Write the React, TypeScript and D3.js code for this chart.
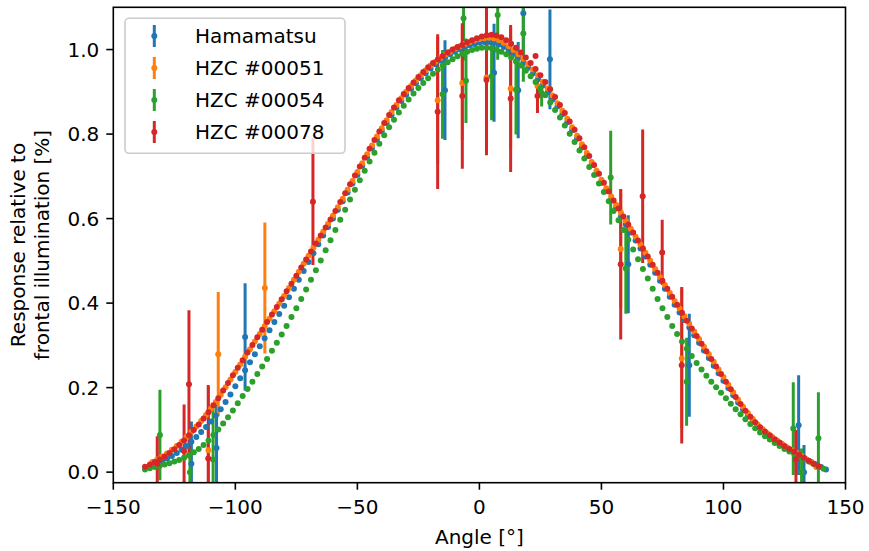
import React from 'react';
import * as d3 from 'd3';

const SERIES_NAMES = ['Hamamatsu', 'HZC #00051', 'HZC #00054', 'HZC #00078'];
const COLORS = ['#1f77b4', '#ff7f0e', '#2ca02c', '#d62728'];

const X_TICKS = [-150, -100, -50, 0, 50, 100, 150];
const Y_TICKS = [0, 0.2, 0.4, 0.6, 0.8, 1.0];

// angle sweeps (degrees)
const HAMAMATSU_ANGLES = d3.range(-134, 143, 2);
const HZC51_ANGLES = d3.range(-134, 139, 2);
const HZC54_ANGLES = d3.range(-137, 142, 2);
const HZC78_ANGLES = d3.range(-137, 140, 2);

const HAMAMATSU_Y = [
  0.018, 0.022, 0.027, 0.032, 0.038, 0.045, 0.053, 0.062, 0.072, 0.083,
  0.095, 0.107, 0.12, 0.134, 0.149, 0.166, 0.184, 0.203, 0.222, 0.241,
  0.26, 0.279, 0.298, 0.317, 0.336, 0.355, 0.374, 0.394, 0.414, 0.434,
  0.455, 0.476, 0.497, 0.518, 0.539, 0.56, 0.58, 0.6, 0.621, 0.641,
  0.662, 0.683, 0.704, 0.725, 0.746, 0.767, 0.787, 0.807, 0.826, 0.845,
  0.862, 0.878, 0.893, 0.907, 0.92, 0.932, 0.944, 0.955, 0.965, 0.974,
  0.982, 0.989, 0.995, 1.001, 1.006, 1.01, 1.013, 1.016, 1.018, 1.018,
  1.016, 1.012, 1.006, 0.999, 0.99, 0.98, 0.969, 0.957, 0.944, 0.93,
  0.915, 0.899, 0.882, 0.865, 0.847, 0.828, 0.809, 0.789, 0.769, 0.748,
  0.727, 0.706, 0.685, 0.665, 0.645, 0.625, 0.605, 0.586, 0.567, 0.548,
  0.529, 0.51, 0.491, 0.472, 0.453, 0.434, 0.415, 0.396, 0.378, 0.36,
  0.342, 0.324, 0.306, 0.288, 0.27, 0.252, 0.234, 0.216, 0.199, 0.182,
  0.165, 0.149, 0.135, 0.122, 0.11, 0.099, 0.089, 0.08, 0.072, 0.064,
  0.057, 0.05, 0.043, 0.036, 0.03, 0.024, 0.018, 0.012, 0.006,
];

const HZC51_Y = [
  0.024, 0.03, 0.037, 0.044, 0.053, 0.062, 0.072, 0.083, 0.095, 0.108,
  0.121, 0.135, 0.15, 0.166, 0.183, 0.201, 0.219, 0.237, 0.255, 0.273,
  0.291, 0.309, 0.327, 0.345, 0.363, 0.381, 0.399, 0.417, 0.436, 0.455,
  0.474, 0.493, 0.512, 0.531, 0.55, 0.569, 0.588, 0.607, 0.627, 0.647,
  0.668, 0.689, 0.71, 0.731, 0.752, 0.773, 0.794, 0.814, 0.833, 0.852,
  0.869, 0.885, 0.9, 0.914, 0.927, 0.939, 0.951, 0.962, 0.971, 0.98,
  0.988, 0.995, 1.002, 1.008, 1.013, 1.018, 1.022, 1.025, 1.027, 1.028,
  1.026, 1.022, 1.016, 1.008, 0.999, 0.989, 0.978, 0.966, 0.953, 0.939,
  0.924, 0.908, 0.891, 0.873, 0.855, 0.836, 0.816, 0.796, 0.776, 0.755,
  0.734, 0.713, 0.692, 0.672, 0.652, 0.633, 0.614, 0.595, 0.576, 0.557,
  0.538, 0.519, 0.5, 0.481, 0.462, 0.443, 0.424, 0.405, 0.387, 0.369,
  0.351, 0.333, 0.315, 0.297, 0.279, 0.261, 0.243, 0.225, 0.207, 0.189,
  0.171, 0.155, 0.14, 0.126, 0.113, 0.102, 0.092, 0.083, 0.075, 0.067,
  0.059, 0.052, 0.045, 0.038, 0.03, 0.022, 0.012,
];

const HZC54_Y = [
  0.006, 0.009, 0.012, 0.015, 0.018, 0.021, 0.025, 0.029, 0.034, 0.04,
  0.047, 0.055, 0.064, 0.075, 0.088, 0.101, 0.115, 0.13, 0.146, 0.163,
  0.18, 0.197, 0.214, 0.232, 0.25, 0.268, 0.287, 0.306, 0.326, 0.346,
  0.367, 0.388, 0.41, 0.432, 0.455, 0.478, 0.501, 0.525, 0.549, 0.573,
  0.597, 0.621, 0.645, 0.668, 0.691, 0.713, 0.735, 0.756, 0.777, 0.797,
  0.816, 0.834, 0.851, 0.867, 0.882, 0.896, 0.909, 0.921, 0.932, 0.943,
  0.953, 0.962, 0.97, 0.977, 0.984, 0.99, 0.995, 0.999, 1.002, 1.004,
  1.004, 1.003, 1.0, 0.995, 0.989, 0.981, 0.972, 0.962, 0.95, 0.937,
  0.923, 0.908, 0.892, 0.875, 0.857, 0.839, 0.82, 0.801, 0.781, 0.761,
  0.742, 0.722, 0.703, 0.683, 0.663, 0.641, 0.618, 0.596, 0.573, 0.55,
  0.527, 0.504, 0.481, 0.458, 0.434, 0.41, 0.388, 0.367, 0.346, 0.327,
  0.309, 0.292, 0.275, 0.258, 0.243, 0.228, 0.214, 0.201, 0.188, 0.175,
  0.162, 0.149, 0.137, 0.125, 0.114, 0.104, 0.094, 0.085, 0.077, 0.069,
  0.062, 0.055, 0.049, 0.043, 0.037, 0.031, 0.025, 0.019, 0.013, 0.008,
];

const HZC78_Y = [
  0.013, 0.018, 0.024, 0.03, 0.037, 0.045, 0.054, 0.064, 0.075, 0.087,
  0.1, 0.113, 0.127, 0.142, 0.158, 0.175, 0.193, 0.211, 0.229, 0.247,
  0.265, 0.283, 0.301, 0.319, 0.337, 0.355, 0.373, 0.391, 0.409, 0.428,
  0.446, 0.465, 0.484, 0.503, 0.522, 0.541, 0.56, 0.579, 0.598, 0.618,
  0.639, 0.66, 0.681, 0.702, 0.723, 0.744, 0.765, 0.786, 0.806, 0.826,
  0.845, 0.863, 0.88, 0.895, 0.909, 0.922, 0.935, 0.947, 0.958, 0.968,
  0.977, 0.985, 0.993, 1.0, 1.006, 1.011, 1.017, 1.022, 1.027, 1.031,
  1.034, 1.035, 1.033, 1.029, 1.022, 1.014, 1.004, 0.993, 0.981, 0.968,
  0.954, 0.939, 0.923, 0.906, 0.888, 0.869, 0.85, 0.83, 0.81, 0.79,
  0.769, 0.748, 0.727, 0.706, 0.685, 0.664, 0.643, 0.624, 0.605, 0.586,
  0.567, 0.548, 0.529, 0.51, 0.491, 0.472, 0.453, 0.434, 0.415, 0.396,
  0.377, 0.358, 0.34, 0.322, 0.304, 0.286, 0.268, 0.25, 0.232, 0.214,
  0.196, 0.178, 0.161, 0.145, 0.131, 0.118, 0.106, 0.096, 0.087, 0.078,
  0.07, 0.062, 0.055, 0.048, 0.041, 0.034, 0.027, 0.02, 0.014,
];

// error-bar measurements: [angle, value, half-error]
const HAMAMATSU_ERR = [
  [-118, 0.02, 0.1], [-107.7, 0.057, 0.106], [-96, 0.32, 0.127], [-14.1, 0.904, 0.118],
  [6, 0.945, 0.116], [15.9, 0.904, 0.114], [18, 1.086, 0.11], [28.9, 0.977, 0.118],
  [61, 0.492, 0.116], [86, 0.253, 0.122], [130.8, 0.111, 0.118], [133, 0.0, 0.064],
];
const HZC51_ERR = [
  [-111, 0.052, 0.15], [-107, 0.279, 0.147], [-87.9, 0.436, 0.155], [-17.1, 0.88, 0.15],
  [-7, 0.921, 0.135], [2.9, 0.934, 0.17], [12.8, 0.908, 0.145], [23.8, 0.914, 0.01],
  [57.9, 0.528, 0.14], [82.9, 0.269, 0.165],
];
const HZC54_ERR = [
  [-130.9, 0.088, 0.107], [-118.6, 0.0, 0.057], [-109.1, 0.03, 0.133], [-15.1, 0.894, 0.105],
  [-6.5, 1.074, 0.1], [-5.5, 0.926, 0.1], [5, 0.937, 0.104], [7.5, 1.082, 0.106],
  [15, 0.905, 0.106], [18, 1.038, 0.114], [25.5, 0.897, 0.032], [53.8, 0.697, 0.111],
  [60, 0.482, 0.107], [84.9, 0.214, 0.104], [128.6, 0.103, 0.11], [132, 0.0, 0.056],
  [138.9, 0.08, 0.109],
];
const HZC78_ERR = [
  [-132, 0.02, 0.065], [-121, 0.05, 0.11], [-119, 0.208, 0.175], [-111.1, 0.032, 0.174],
  [-68.2, 0.64, 0.15], [-17.1, 0.853, 0.183], [-7, 0.89, 0.172], [2.9, 0.928, 0.178],
  [12.8, 0.884, 0.174], [23, 0.985, 0.004], [23.8, 0.89, 0.04], [57.9, 0.492, 0.178],
  [66.9, 0.653, 0.158], [74.9, 0.52, 0.077], [82.9, 0.253, 0.185], [129.7, 0.03, 0.07],
];

const ANGLES = [HAMAMATSU_ANGLES, HZC51_ANGLES, HZC54_ANGLES, HZC78_ANGLES];
const VALUES = [HAMAMATSU_Y, HZC51_Y, HZC54_Y, HZC78_Y];
const ERRS = [HAMAMATSU_ERR, HZC51_ERR, HZC54_ERR, HZC78_ERR];

const W = 869;
const H = 551;
const PL = 113.3, PR = 845.5, PT = 7.3, PB = 482.7;
const FONT = 'DejaVu Sans, sans-serif';
const FS = 20;

export default function App() {
  const x = d3.scaleLinear().domain([-150, 150]).range([PL, PR]);
  const y = d3.scaleLinear().domain([-0.025, 1.1]).range([PB, PT]);
  const fmtY = d3.format('.1f');
  const fmtX = (v: number) => (v < 0 ? '\u2212' + Math.abs(v) : String(v));
  const MR = 3;
  const LW = 3;

  const legendRows = [36, 68, 100, 132];

  return (
    <svg width={W} height={H} style={{ position: 'absolute', left: 0, top: 0, background: '#fff' }}
      fontFamily={FONT}>
      <defs>
        <clipPath id="plotclip">
          <rect x={PL} y={PT} width={PR - PL} height={PB - PT} />
        </clipPath>
      </defs>
      <rect x={0} y={0} width={W} height={H} fill="#fff" />
      <g clipPath="url(#plotclip)">
        {ERRS.map((errs, si) => (
          <g key={'e' + si} stroke={COLORS[si]} strokeWidth={LW}>
            {errs.map((d, i) => (
              <line key={i} x1={x(d[0])} x2={x(d[0])} y1={y(d[1] - d[2])} y2={y(d[1] + d[2])} />
            ))}
          </g>
        ))}
        {VALUES.map((vals, si) => (
          <g key={'m' + si} fill={COLORS[si]}>
            {vals.map((v, i) => (
              ANGLES[si][i] === undefined ? null :
                <circle key={i} cx={x(ANGLES[si][i])} cy={y(v)} r={MR} />
            ))}
            {ERRS[si].map((d, i) => (
              <circle key={'c' + i} cx={x(d[0])} cy={y(d[1])} r={MR} />
            ))}
          </g>
        ))}
      </g>
      {/* axes frame */}
      <rect x={PL} y={PT} width={PR - PL} height={PB - PT} fill="none" stroke="#000" strokeWidth={1.6} />
      {/* x ticks */}
      {X_TICKS.map((t) => (
        <g key={'xt' + t}>
          <line x1={x(t)} x2={x(t)} y1={PB} y2={PB + 7} stroke="#000" strokeWidth={1.6} />
          <text x={x(t)} y={514} fontSize={FS} textAnchor="middle" fill="#000">{fmtX(t)}</text>
        </g>
      ))}
      {/* y ticks */}
      {Y_TICKS.map((t) => (
        <g key={'yt' + t}>
          <line x1={PL - 7} x2={PL} y1={y(t)} y2={y(t)} stroke="#000" strokeWidth={1.6} />
          <text x={PL - 14} y={y(t) + 7.3} fontSize={FS} textAnchor="end" fill="#000">{fmtY(t)}</text>
        </g>
      ))}
      {/* axis labels */}
      <text x={(PL + PR) / 2} y={544} fontSize={FS} textAnchor="middle" fill="#000">Angle [°]</text>
      <g transform={`translate(0, ${(PT + PB) / 2}) rotate(-90)`}>
        <text x={0} y={24.6} fontSize={FS} textAnchor="middle" fill="#000">Response relative to</text>
        <text x={0} y={48.6} fontSize={FS} textAnchor="middle" fill="#000">frontal illumination [%]</text>
      </g>
      {/* legend */}
      <rect x={125} y={18.3} width={220} height={135} rx={4} ry={4} fill="#fff" fillOpacity={0.8}
        stroke="#cccccc" strokeWidth={1.6} />
      {SERIES_NAMES.map((name, i) => (
        <g key={'lg' + i}>
          <line x1={154.3} x2={154.3} y1={legendRows[i] - 11} y2={legendRows[i] + 11}
            stroke={COLORS[i]} strokeWidth={LW} />
          <circle cx={154.3} cy={legendRows[i]} r={MR} fill={COLORS[i]} />
          <text x={195} y={legendRows[i] + 7.3} fontSize={FS} fill="#000">{name}</text>
        </g>
      ))}
    </svg>
  );
}
